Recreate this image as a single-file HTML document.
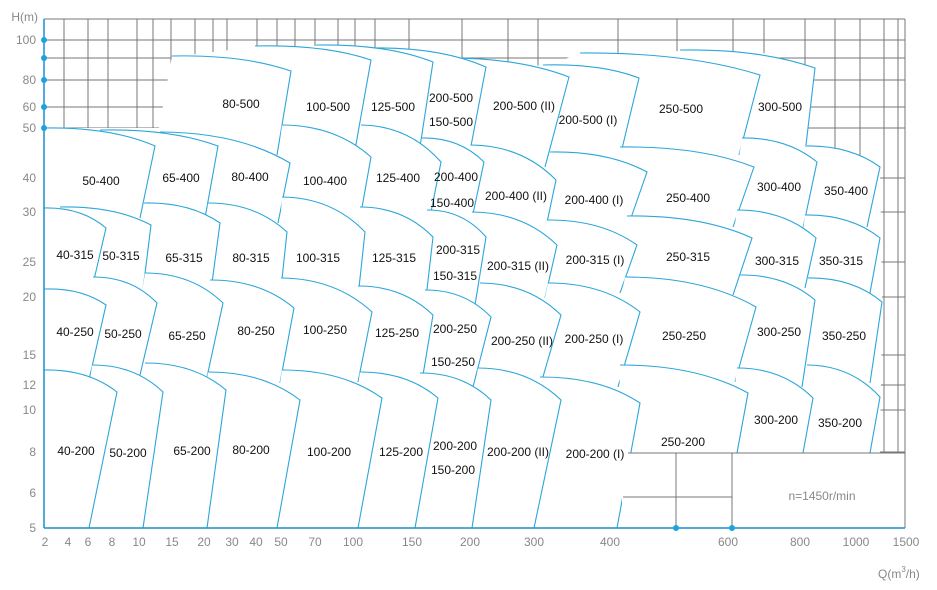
<!DOCTYPE html>
<html><head><meta charset="utf-8"><style>
html,body{margin:0;padding:0;background:#fff;width:937px;height:590px;overflow:hidden}
svg{display:block}
.l{font-family:"Liberation Sans",sans-serif;font-size:12px;fill:#111;text-anchor:middle;dominant-baseline:central}
.a{font-family:"Liberation Sans",sans-serif;font-size:12px;fill:#888;dominant-baseline:central}
</style></head><body>
<svg id="s" width="937" height="590" viewBox="0 0 937 590" xmlns="http://www.w3.org/2000/svg">
<g id="grid" stroke="#777" stroke-width="1" fill="none"></g>
<polygon fill="#fff" points="44,128 159,128 172,57 255,47 316,46 440,58 543,66 580,54 680,51 760,52 815,69 806,145 880,167 882,302 880,453 880,528 44,528"/>
<g id="patches"></g>
<rect x="622" y="453" width="283" height="75" fill="#fff"/>
<g stroke="#777" stroke-width="1" fill="none">
<line x1="628" y1="453" x2="905" y2="453"/>
<line x1="623" y1="497" x2="732" y2="497"/>
<line x1="676" y1="453" x2="676" y2="528"/>
<line x1="732" y1="453" x2="732" y2="528"/>
<line x1="905" y1="19" x2="905" y2="528"/>
<line x1="44" y1="19" x2="905" y2="19"/>
</g>
<g stroke="#1a8fd0" stroke-width="1.5">
<line x1="44" y1="19" x2="44" y2="528"/>
<line x1="44" y1="528" x2="905" y2="528"/>
</g>
<g fill="#1aa3e0">
<circle cx="44" cy="40" r="3"/><circle cx="44" cy="58" r="3"/><circle cx="44" cy="80" r="3"/><circle cx="44" cy="107" r="3"/><circle cx="44" cy="128" r="3"/>
<circle cx="676" cy="528" r="3"/><circle cx="732" cy="528" r="3"/>
</g>
<g>
<text x="38" y="17" class="a" text-anchor="end">H(m)</text>
<text x="36" y="40" class="a" text-anchor="end">100</text>
<text x="36" y="80" class="a" text-anchor="end">80</text>
<text x="36" y="107" class="a" text-anchor="end">60</text>
<text x="36" y="128" class="a" text-anchor="end">50</text>
<text x="36" y="178" class="a" text-anchor="end">40</text>
<text x="36" y="212" class="a" text-anchor="end">30</text>
<text x="36" y="262" class="a" text-anchor="end">25</text>
<text x="36" y="297" class="a" text-anchor="end">20</text>
<text x="36" y="355" class="a" text-anchor="end">15</text>
<text x="36" y="385" class="a" text-anchor="end">12</text>
<text x="36" y="410" class="a" text-anchor="end">10</text>
<text x="36" y="452" class="a" text-anchor="end">8</text>
<text x="36" y="493" class="a" text-anchor="end">6</text>
<text x="36" y="528" class="a" text-anchor="end">5</text>
</g>
<g>
<text class="a" text-anchor="middle" x="45" y="542">2</text>
<text class="a" text-anchor="middle" x="68" y="542">4</text>
<text class="a" text-anchor="middle" x="88" y="542">6</text>
<text class="a" text-anchor="middle" x="112" y="542">8</text>
<text class="a" text-anchor="middle" x="139" y="542">10</text>
<text class="a" text-anchor="middle" x="172" y="542">15</text>
<text class="a" text-anchor="middle" x="204" y="542">20</text>
<text class="a" text-anchor="middle" x="232" y="542">30</text>
<text class="a" text-anchor="middle" x="256" y="542">40</text>
<text class="a" text-anchor="middle" x="281" y="542">50</text>
<text class="a" text-anchor="middle" x="315" y="542">70</text>
<text class="a" text-anchor="middle" x="353" y="542">100</text>
<text class="a" text-anchor="middle" x="412" y="542">150</text>
<text class="a" text-anchor="middle" x="470" y="542">200</text>
<text class="a" text-anchor="middle" x="534" y="542">300</text>
<text class="a" text-anchor="middle" x="610" y="542">400</text>
<text class="a" text-anchor="middle" x="728" y="542">600</text>
<text class="a" text-anchor="middle" x="800" y="542">800</text>
<text class="a" text-anchor="middle" x="856" y="542">1000</text>
<text class="a" text-anchor="middle" x="906" y="542">1500</text>
<text class="a" x="878" y="574">Q(m<tspan font-size="8" dy="-5">3</tspan><tspan dy="5">/h)</tspan></text>
<text class="a" text-anchor="middle" x="822" y="496">n=1450r/min</text>
</g>
<g id="labels">
<text class="l" x="241" y="104">80-500</text><text class="l" x="328" y="107">100-500</text><text class="l" x="393" y="107">125-500</text><text class="l" x="451" y="98">200-500</text><text class="l" x="451" y="122">150-500</text><text class="l" x="524" y="106">200-500 (II)</text><text class="l" x="588" y="120">200-500 (I)</text><text class="l" x="681" y="109">250-500</text><text class="l" x="780" y="107">300-500</text>
<text class="l" x="101" y="181">50-400</text><text class="l" x="181" y="178">65-400</text><text class="l" x="250" y="177">80-400</text><text class="l" x="325" y="181">100-400</text><text class="l" x="398" y="178">125-400</text><text class="l" x="456" y="177">200-400</text><text class="l" x="452" y="203">150-400</text><text class="l" x="516" y="196">200-400 (II)</text><text class="l" x="594" y="200">200-400 (I)</text><text class="l" x="688" y="198">250-400</text><text class="l" x="779" y="187">300-400</text><text class="l" x="846" y="191">350-400</text>
<text class="l" x="75" y="255">40-315</text><text class="l" x="121" y="256">50-315</text><text class="l" x="184" y="258">65-315</text><text class="l" x="251" y="258">80-315</text><text class="l" x="318" y="258">100-315</text><text class="l" x="394" y="258">125-315</text><text class="l" x="458" y="250">200-315</text><text class="l" x="455" y="276">150-315</text><text class="l" x="518" y="266">200-315 (II)</text><text class="l" x="595" y="260">200-315 (I)</text><text class="l" x="688" y="257">250-315</text><text class="l" x="777" y="261">300-315</text><text class="l" x="841" y="261">350-315</text>
<text class="l" x="75" y="332">40-250</text><text class="l" x="123" y="334">50-250</text><text class="l" x="187" y="336">65-250</text><text class="l" x="256" y="331">80-250</text><text class="l" x="325" y="330">100-250</text><text class="l" x="397" y="333">125-250</text><text class="l" x="455" y="329">200-250</text><text class="l" x="453" y="362">150-250</text><text class="l" x="522" y="341">200-250 (II)</text><text class="l" x="594" y="339">200-250 (I)</text><text class="l" x="684" y="336">250-250</text><text class="l" x="779" y="332">300-250</text><text class="l" x="844" y="336">350-250</text>
<text class="l" x="76" y="451">40-200</text><text class="l" x="128" y="453">50-200</text><text class="l" x="192" y="451">65-200</text><text class="l" x="251" y="450">80-200</text><text class="l" x="329" y="452">100-200</text><text class="l" x="401" y="452">125-200</text><text class="l" x="455" y="446">200-200</text><text class="l" x="453" y="470">150-200</text><text class="l" x="518" y="452">200-200 (II)</text><text class="l" x="595" y="454">200-200 (I)</text><text class="l" x="683" y="442">250-200</text><text class="l" x="776" y="420">300-200</text><text class="l" x="840" y="423">350-200</text>
</g>
</svg>
<script>
(function(){
var NS="http://www.w3.org/2000/svg";
var g=document.getElementById("grid");
function ln(x1,y1,x2,y2){var e=document.createElementNS(NS,"line");e.setAttribute("x1",x1);e.setAttribute("y1",y1);e.setAttribute("x2",x2);e.setAttribute("y2",y2);g.appendChild(e);}
[40,58,80,107,128,178,212,262,297,355,385,410,452,493].forEach(function(y){ln(44,y,905,y);});
[64,88,108,137,153,171,195,213,227,257,277,295,315,338,355,375,409,462,508,538,618,677,733,764,805,835,860,884,898].forEach(function(x){ln(x,19,x,528);});
var rows=[
[[680,50,815,68,806,145],[580,53,760,75,739,155],[543,65,639,78,620,157],[440,58,569,77,545,167],[371,48,486,67,471,146],[316,45,433,62,420,147],[255,46,371,60,355,150],[172,56,291,71,277,155,159,130]],
[[805,146,880,167,867,227],[742,138,817,162,803,228],[620,147,754,167,733,227],[550,152,647,172,625,235],[471,145,556,180,545,232],[422,138,484,162,470,228],[361,125,441,162,427,232],[282,125,371,157,358,230],[160,132,290,163,278,223],[100,130,218,146,205,218],[44,128,155,146,140,218,44,218]],
[[805,215,880,238,870,293],[737,210,816,238,805,288],[627,216,752,238,733,295],[547,220,637,245,620,293],[472,212,557,245,545,298],[427,210,486,237,475,305],[360,207,433,237,425,307],[282,197,365,232,358,297],[208,203,287,232,280,298],[144,203,220,223,212,283],[60,207,151,225,143,290],[44,208,106,228,90,297,44,297]],
[[808,278,882,302,870,383],[740,275,815,300,802,387],[625,277,756,307,735,382],[548,283,640,312,618,387],[480,283,561,315,540,387],[425,290,491,317,473,387],[358,286,433,315,421,387],[281,278,372,312,358,382],[210,280,294,308,280,383],[145,273,223,303,207,377],[93,277,157,303,140,375],[44,289,106,305,89,380,44,380]],
[[807,365,880,397,870,453],[737,368,813,398,803,453],[620,365,748,393,737,453,617,528],[540,377,640,403,617,528],[478,368,561,400,534,528],[420,373,491,400,472,528],[360,372,438,398,415,528],[282,370,382,398,358,528],[208,372,300,400,277,528],[145,363,226,390,207,528],[92,365,163,392,143,528],[44,370,117,392,89,528,44,528]]
];
var pg=document.getElementById("patches");
rows.forEach(function(r){r.forEach(function(p){
 var x1=p[0],y1=p[1],x2=p[2],y2=p[3],x3=p[4],y3=p[5];
 var x4=p.length>6?p[6]:x1-(x2-x3), y4=p.length>6?p[7]:y3;
 var cx=x1+0.6*(x2-x1), cy=y1+0.1*(y2-y1)-3;
 var top="M"+x1+" "+y1+" Q"+cx+" "+cy+" "+x2+" "+y2+" L"+x3+" "+y3;
 var f=document.createElementNS(NS,"path");
 f.setAttribute("d",top+" L"+x4+" "+y4+" Z");f.setAttribute("fill","#fff");f.setAttribute("stroke","none");pg.appendChild(f);
 var s=document.createElementNS(NS,"path");
 s.setAttribute("d",top);s.setAttribute("fill","none");s.setAttribute("stroke","#2ba6da");s.setAttribute("stroke-width","1.1");pg.appendChild(s);
});});
})();
</script>
</body></html>
